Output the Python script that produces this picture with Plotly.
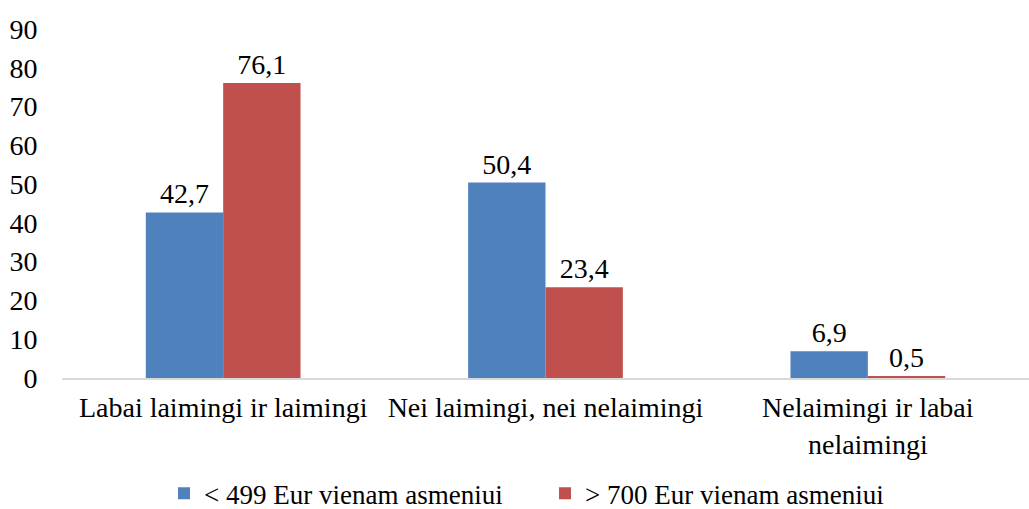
import plotly.graph_objects as go

categories = ["Labai laimingi ir laimingi", "Nei laimingi, nei nelaimingi", "Nelaimingi ir labai<br>nelaimingi"]
series_names = ["< 499 Eur vienam asmeniui", "> 700 Eur vienam asmeniui"]
low_income = [42.7, 50.4, 6.9]
high_income = [76.1, 23.4, 0.5]
colors = ["#4F81BD", "#C0504D"]
y_ticks = [0, 10, 20, 30, 40, 50, 60, 70, 80, 90]

FONT = "Liberation Serif, Times New Roman, serif"
FS = 28

def fmt(v):
    return f"{v:.1f}".replace(".", ",")

fig = go.Figure()
for name, vals, col in zip(series_names, [low_income, high_income], colors):
    fig.add_trace(go.Bar(
        x=categories, y=vals, name=name,
        marker=dict(color=col, line=dict(width=0)),
        text=[fmt(v) for v in vals], textposition="outside",
        textfont=dict(family=FONT, size=FS, color="#000000"),
        cliponaxis=False,
    ))

fig.update_layout(
    width=1029, height=509,
    paper_bgcolor="white", plot_bgcolor="white",
    barmode="group", bargap=0.52, bargroupgap=0,
    font=dict(family=FONT, size=FS, color="#000000"),
    margin=dict(l=62, r=0, t=29, b=131),
    showlegend=True,
    legend=dict(orientation="h", x=0.1055, xanchor="left",
                yref="container", y=0.03, yanchor="middle",
                font=dict(family=FONT, size=27), entrywidth=336, entrywidthmode="pixels",
                traceorder="normal", itemwidth=30),
    xaxis=dict(showline=True, linecolor="#D9D9D9", linewidth=1.5, ticks="",
               tickfont=dict(family=FONT, size=FS), showgrid=False, ticklabelstandoff=4),
    yaxis=dict(range=[0, 90], tickvals=y_ticks, showgrid=False, showline=False,
               zeroline=False, ticks="outside", ticklen=18, tickcolor="rgba(0,0,0,0)",
               tickfont=dict(family=FONT, size=FS)),
)

fig.write_html("out.html", config={"displayModeBar": False},
               post_script="document.body.style.margin='0';document.body.style.padding='0';")
